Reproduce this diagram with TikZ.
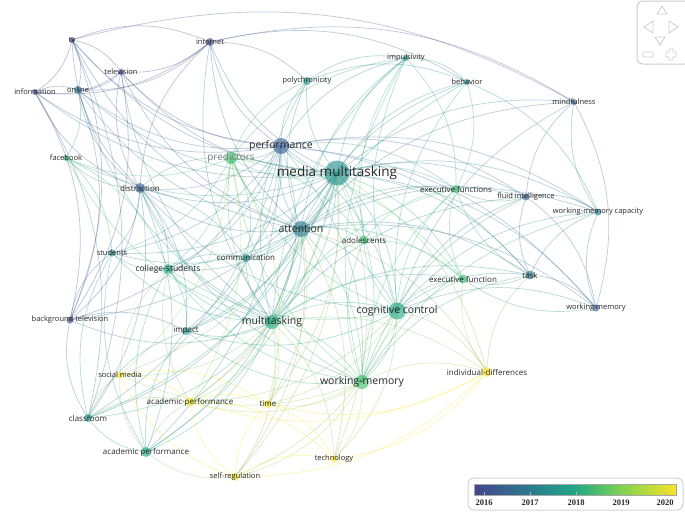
\documentclass[tikz,border=0pt]{standalone}
\usepackage{fontspec}
\setsansfont{Open Sans}
\newfontfamily\legendfont{Liberation Serif}

\definecolor{y16}{RGB}{68,70,138}
\definecolor{y16b}{RGB}{62,96,152}
\definecolor{y17}{RGB}{44,122,142}
\definecolor{y17b}{RGB}{34,146,140}
\definecolor{y18}{RGB}{33,168,132}
\definecolor{y18b}{RGB}{62,190,110}
\definecolor{y19}{RGB}{125,210,80}
\definecolor{y20}{RGB}{250,228,40}
\definecolor{labelgray}{RGB}{40,40,40}
\definecolor{navgray}{RGB}{205,205,205}

\begin{document}
\begin{tikzpicture}[x=1pt,y=-1pt,
  link/.style={line width=0.75pt,opacity=0.32},
  dot/.style={opacity=0.62},
  kw/.style={inner sep=0pt,font=\sffamily}]
\useasboundingbox (0,0) rectangle (685,512);

\foreach \n/\x/\y/\c in {tv/72/40/y16, inet/210/42/y16, telev/121/72/y16, info/35/92/y16,
    onl/78/90/y17, poly/307/81/y17b, impu/406/58/y17b, behav/467/82/y17b, mind/574/102/y16b,
    fb/66/158/y18b, perf/281/146/y16b, pred/231/158/y18b, mm/337/173/y17b, distr/140/188/y16b,
    exfs/456/189/y18b, fluid/526/197/y16b, wmc/598/212/y17, att/301/229/y17, adol/364/240/y18b,
    stud/112/253/y17b, coll/168/269/y18, comm/246/258/y17b, task/530/275/y17, exf/463/279/y18b,
    bgtv/70/320/y16, imp/186/331/y17b, mt/272/322/y18, cc/397/311/y18, wm/596/308/y16b,
    soc/120/375/y20, wmh/362/382/y18b, indiv/487/372/y20, acph/190/402/y20, time/268/404/y20,
    class/88/418/y17b, acp/146/452/y18, tech/334/459/y20, selfr/235/477/y20}
  {\coordinate (\n) at (\x,\y); \xglobal\colorlet{k\n}{\c}}

\foreach \a/\b in {mm/tv, mm/inet, mm/telev, mm/info, mm/onl, mm/poly, mm/impu, mm/behav,
    mm/mind, mm/fb, mm/perf, mm/pred, mm/distr, mm/exfs, mm/fluid, mm/wmc, mm/att, mm/adol,
    mm/stud, mm/coll, mm/comm, mm/task, mm/exf, mm/bgtv, mm/imp, mm/mt, mm/cc, mm/wm, mm/soc,
    mm/wmh, mm/indiv, mm/acph, mm/time, mm/class, mm/acp, mm/tech, mm/selfr,
    att/tv, att/inet, att/telev, att/onl, att/poly, att/impu, att/behav, att/mind, att/perf,
    att/pred, att/distr, att/exfs, att/fluid, att/wmc, att/adol, att/stud, att/coll, att/comm,
    att/task, att/exf, att/imp, att/mt, att/cc, att/wm, att/wmh, att/indiv, att/acph, att/time,
    att/class, att/acp, att/tech, att/selfr,
    perf/tv, perf/inet, perf/telev, perf/info, perf/onl, perf/poly, perf/impu, perf/pred,
    perf/distr, perf/exfs, perf/fluid, perf/wmc, perf/stud, perf/coll, perf/comm, perf/task,
    perf/bgtv, perf/imp, perf/mt, perf/cc, perf/wm, perf/wmh, perf/class, perf/acp,
    mt/inet, mt/telev, mt/onl, mt/poly, mt/impu, mt/behav, mt/fb, mt/pred, mt/distr, mt/exfs,
    mt/fluid, mt/adol, mt/stud, mt/coll, mt/comm, mt/task, mt/exf, mt/bgtv, mt/imp, mt/cc,
    mt/soc, mt/wmh, mt/indiv, mt/acph, mt/time, mt/class, mt/acp, mt/tech, mt/selfr,
    cc/impu, cc/behav, cc/mind, cc/pred, cc/distr, cc/exfs, cc/fluid, cc/wmc, cc/adol, cc/coll,
    cc/task, cc/exf, cc/imp, cc/wm, cc/wmh, cc/indiv, cc/acph, cc/time, cc/tech, cc/selfr,
    wmh/impu, wmh/pred, wmh/distr, wmh/exfs, wmh/fluid, wmh/wmc, wmh/adol, wmh/coll, wmh/comm,
    wmh/task, wmh/exf, wmh/imp, wmh/indiv, wmh/acph, wmh/time, wmh/tech, wmh/selfr, wmh/soc,
    distr/tv, distr/inet, distr/telev, distr/info, distr/onl, distr/fb, distr/pred, distr/stud,
    distr/coll, distr/comm, distr/bgtv, distr/imp, distr/class, distr/acp,
    tv/inet, tv/telev, tv/info, tv/onl, tv/bgtv, tv/class, tv/mind, inet/telev, inet/info,
    inet/onl, inet/poly, inet/behav, inet/mind, telev/info, telev/onl, telev/bgtv, info/onl,
    info/bgtv, info/class, onl/bgtv, onl/fb, pred/fb, pred/impu, pred/poly, pred/stud,
    pred/coll, pred/comm, pred/adol, pred/exf, pred/acph, pred/soc, pred/time, task/fluid,
    task/wmc, task/exf, task/wm, task/exfs, fluid/wmc, fluid/wm, fluid/exfs, fluid/mind,
    wm/wmc, wm/exf, mind/wm, indiv/exf, indiv/time, indiv/tech, indiv/acph, indiv/selfr,
    indiv/task, selfr/acph, selfr/time, selfr/tech, selfr/soc, selfr/acp, acp/class, acp/imp,
    acp/coll, acp/stud, acp/acph, acp/soc, class/imp, class/stud, class/bgtv, class/soc,
    class/acph, bgtv/imp, bgtv/stud, soc/acph, soc/coll, soc/time, acph/time, acph/coll,
    acph/tech, time/tech, adol/exfs, adol/exf, adol/impu, poly/impu, poly/behav, impu/behav,
    impu/exfs, behav/exfs, behav/wmc, exf/exfs, coll/stud, coll/comm, coll/imp, comm/imp,
    fb/stud, fb/coll, wmc/mind}
  {\colorlet{linkcol}{k\a!50!k\b}
   \draw[link,draw=linkcol] (\a) to[bend left=22] (\b);}

\foreach \n/\r/\s/\tc/\t in {tv/3/7.5/labelgray/tv, inet/4/7.5/labelgray/internet,
    telev/3/7.5/labelgray/television, info/3/7.5/labelgray/information,
    onl/4/7.5/labelgray/online, poly/4/7.5/labelgray/polychronicity,
    impu/3/7.5/labelgray/impulsivity, behav/3/7.5/labelgray/behavior,
    mind/3/7.5/labelgray/mindfulness, fb/3/7.5/labelgray/facebook,
    perf/8/10.5/labelgray/performance, pred/6/10/gray/predictors,
    mm/12.5/13.5/labelgray/media multitasking, distr/5/8/labelgray/distraction,
    exfs/4/8/labelgray/executive functions, fluid/3.5/7.5/labelgray/fluid intelligence,
    wmc/3.5/7.5/labelgray/working-memory capacity, att/8/10.5/labelgray/attention,
    adol/4.5/8/labelgray/adolescents, stud/3.5/7.5/labelgray/students,
    coll/5/8.5/labelgray/college-students, comm/4/8/labelgray/communication,
    task/4.5/8/labelgray/task, exf/4.5/8/labelgray/executive function,
    bgtv/3.5/7.5/labelgray/background television, imp/4/8/labelgray/impact,
    mt/7/10.5/labelgray/multitasking, cc/8.5/10.5/labelgray/cognitive control,
    wm/3.5/7.5/labelgray/working memory, soc/3.5/7.5/labelgray/social media,
    wmh/7/10.5/labelgray/working-memory, indiv/5/8/labelgray/individual-differences,
    acph/4.5/8/labelgray/academic-performance, time/4/8/labelgray/time,
    class/4/8/labelgray/classroom, acp/5/8/labelgray/academic performance,
    tech/3.5/7.5/labelgray/technology, selfr/4/7.5/labelgray/self-regulation}
  {\fill[dot,k\n] (\n) circle (\r);
   \node[kw,text=\tc] (lab-\n) at (\n) {\fontsize{\s}{\s}\selectfont \t};}

\draw[navgray,line width=1pt,rounded corners=6pt] (637,1) rectangle (690,64);
\draw[navgray,line width=0.8pt,line join=round]
  (657,14) -- (662,6) -- (667,14) -- cycle
  (653,21) -- (644,27) -- (653,33) -- cycle
  (669,21) -- (678,27) -- (669,33) -- cycle
  (655,37) -- (665,37) -- (660,45) -- cycle
  (643,52) rectangle (653,57)
  (669,49) -- (673,49) -- (673,52) -- (676,52) -- (676,57) -- (673,57) -- (673,60)
    -- (669,60) -- (669,57) -- (666,57) -- (666,52) -- (669,52) -- cycle;

\draw[gray!35,line width=1pt,rounded corners=6pt] (468,478) rectangle (683,510);
\shade[left color=y16,right color=y17] (474,484) rectangle (530,495);
\shade[left color=y17,right color=y18] (530,484) rectangle (576,495);
\shade[left color=y18,right color=y19] (576,484) rectangle (621,495);
\shade[left color=y19,right color=y20] (621,484) rectangle (676,495);
\draw[gray!70,line width=0.4pt] (474,484) rectangle (676,495);
\foreach \x/\yr in {484/2016, 530/2017, 576/2018, 621/2019, 665/2020}
  {\draw[gray!60,line width=0.4pt] (\x,492) -- (\x,495);
   \node[inner sep=0pt,font=\legendfont\bfseries\fontsize{8.5}{8.5}\selectfont,text=labelgray]
     (yr\yr) at (\x,503) {\yr};}
\end{tikzpicture}
\end{document}
